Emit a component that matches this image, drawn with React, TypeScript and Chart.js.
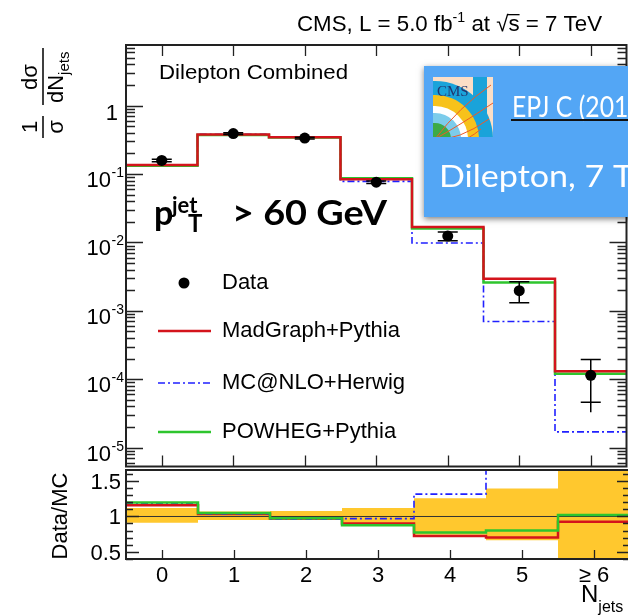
import React, { useEffect, useRef } from 'react';
import { Chart, registerables } from 'chart.js';

Chart.register(...registerables);

// ---------------- data ----------------
const categories = ['0', '1', '2', '3', '4', '5', '≥ 6'];
const binCenters = [0, 1, 2, 3, 4, 5, 6];

const dataValues = [0.158, 0.39, 0.335, 0.076, 0.0124, 0.00197, 0.000114];
const dataStatHi = [0.165, 0.402, 0.345, 0.079, 0.0142, 0.00266, 0.000195];
const dataStatLo = [0.151, 0.378, 0.325, 0.073, 0.0106, 0.00131, 0.000046];
const dataTotLo = [0.151, 0.378, 0.325, 0.073, 0.0106, 0.00131, 0.000033];

const madgraph = [0.136, 0.377, 0.345, 0.084, 0.0168, 0.00294, 0.000131];
const mcatnlo = [0.133, 0.382, 0.348, 0.078, 0.0098, 0.0007, 0.000017];
const powheg = [0.132, 0.371, 0.343, 0.087, 0.016, 0.0026, 0.00012];

const ratioMadgraph = [1.16, 1.035, 0.97, 0.9, 0.72, 0.7, 0.925];
const ratioMcatnlo = [1.19, 1.04, 0.965, 0.97, 1.32, 2.8, 6.7];
const ratioPowheg = [1.2, 1.05, 0.975, 0.875, 0.77, 0.8, 1.02];
const bandLo = [0.91, 0.95, 0.95, 0.88, 0.74, 0.66, 0.2];
const bandHi = [1.12, 1.07, 1.08, 1.12, 1.26, 1.4, 1.9];

const yTickExponents = [0, -1, -2, -3, -4, -5];
const ratioTicks = [0.5, 1, 1.5];
const ratioTickLabels = ['0.5', '1', '1.5'];
const seriesLabels = ['Data', 'MadGraph+Pythia', 'MC@NLO+Herwig', 'POWHEG+Pythia'];

// ---------------- styles ----------------
const SANS = '"Liberation Sans", Arial, Helvetica, sans-serif';
const SLIDE = 'Lato, "Open Sans", sans-serif';
const RED = '#D4141C';
const GREEN = '#2EC52E';
const BLUE = '#2020FF';
const GOLD = '#FFC82E';
const FRAME = '#222';
const BLUE_DASH = [7, 3, 2, 3];

function stepPoints(vals: number[]) {
  const pts: { x: number; y: number }[] = [];
  vals.forEach((v, i) => {
    pts.push({ x: binCenters[i] - 0.5, y: v });
    pts.push({ x: binCenters[i] + 0.5, y: v });
  });
  return pts;
}

type Seg = { t: string; size: number; dy?: number; over?: boolean; font?: string };

function drawRich(ctx: CanvasRenderingContext2D, segs: Seg[], x: number, y: number, target?: number) {
  ctx.save();
  ctx.textAlign = 'left';
  ctx.textBaseline = 'alphabetic';
  const widths = segs.map((s) => {
    ctx.font = `${s.size}px ${s.font || SANS}`;
    return ctx.measureText(s.t).width;
  });
  const total = widths.reduce((a, b) => a + b, 0);
  const sc = target ? target / total : 1;
  ctx.translate(x, y);
  ctx.scale(sc, 1);
  let cx = 0;
  segs.forEach((s, i) => {
    ctx.font = `${s.size}px ${s.font || SANS}`;
    ctx.fillText(s.t, cx, s.dy || 0);
    if (s.over) {
      ctx.fillRect(cx - 1, -17, widths[i] + 1, 1.3);
    }
    cx += widths[i];
  });
  ctx.restore();
}

function fitText(ctx: CanvasRenderingContext2D, t: string, x: number, y: number, target: number) {
  const w = ctx.measureText(t).width;
  ctx.save();
  ctx.translate(x, y);
  ctx.scale(target / w, 1);
  ctx.textAlign = 'left';
  ctx.fillText(t, 0, 0);
  ctx.restore();
}

// draws the full text, scaled so that its leading part `lead` gets width `target`
function fitLead(ctx: CanvasRenderingContext2D, t: string, lead: string, x: number, y: number, target: number) {
  const w = ctx.measureText(lead).width;
  ctx.save();
  ctx.translate(x, y);
  ctx.scale(target / w, 1);
  ctx.textAlign = 'left';
  ctx.fillText(t, 0, 0);
  ctx.restore();
}

function drawOverlay(ctx: CanvasRenderingContext2D) {
  ctx.save();
  ctx.shadowColor = 'rgba(0,0,0,0.5)';
  ctx.shadowBlur = 6;
  ctx.shadowOffsetY = 2;
  ctx.fillStyle = '#53A6F5';
  ctx.fillRect(424, 66, 230, 151);
  ctx.restore();

  // logo
  const lx = 433, ly = 77, ls = 60;
  ctx.save();
  ctx.beginPath();
  ctx.rect(lx, ly, ls, ls);
  ctx.clip();
  ctx.fillStyle = '#FBDEC6';
  ctx.fillRect(lx, ly, ls, ls);
  ctx.fillStyle = '#1AA3DA';
  ctx.fillRect(lx + 40, ly, 14, ls);
  const cx = lx + 2, cy = ly + ls + 2;
  const ring = (r: number, col: string) => {
    ctx.beginPath();
    ctx.arc(cx, cy, r, 0, Math.PI * 2);
    ctx.fillStyle = col;
    ctx.fill();
  };
  ring(58, '#1AA3DA');
  ring(44, '#F7C21B');
  ring(33, '#FFFFFF');
  ring(26, '#7CCCEB');
  ring(16, '#3DAA47');
  ctx.strokeStyle = '#EE5A28';
  ctx.lineWidth = 1;
  const ends = [[58, 8], [60, 26], [56, 42], [48, 52]];
  ends.forEach(([ex, ey]) => {
    ctx.beginPath();
    ctx.moveTo(cx, cy);
    ctx.quadraticCurveTo(lx + ex * 0.45, ly + ey + 22, lx + ex, ly + ey);
    ctx.stroke();
  });
  ctx.fillStyle = '#23366F';
  ctx.font = '15px "Liberation Serif", serif';
  ctx.textAlign = 'left';
  ctx.fillText('CMS', lx + 4, ly + 19);
  ctx.restore();

  ctx.save();
  ctx.fillStyle = '#FFFFFF';
  ctx.textAlign = 'left';
  ctx.textBaseline = 'alphabetic';
  ctx.font = `28px ${SLIDE}`;
  fitLead(ctx, 'EPJ C (2013) 73:2339', 'EPJ C (20', 512, 117, 102);
  ctx.fillStyle = '#111';
  ctx.fillRect(511, 119, 140, 2);
  ctx.fillStyle = '#FFFFFF';
  ctx.font = `30px ${SLIDE}`;
  fitLead(ctx, 'Dilepton, 7 TeV', 'Dilepton, 7 ', 439, 187, 174);
  ctx.restore();
}

const topPlugin = {
  id: 'topDecor',
  afterDatasetsDraw(chart: any) {
    const { ctx } = chart;
    const x = chart.scales.x, y = chart.scales.y;
    ctx.save();
    ctx.strokeStyle = '#000';
    ctx.lineWidth = 1.5;
    binCenters.forEach((c, i) => {
      const px = x.getPixelForValue(c);
      const hi = y.getPixelForValue(dataStatHi[i]);
      const lo = y.getPixelForValue(dataStatLo[i]);
      const tlo = y.getPixelForValue(dataTotLo[i]);
      ctx.beginPath();
      ctx.moveTo(px, hi);
      ctx.lineTo(px, tlo);
      ctx.moveTo(px - 10, hi);
      ctx.lineTo(px + 10, hi);
      ctx.moveTo(px - 10, lo);
      ctx.lineTo(px + 10, lo);
      ctx.stroke();
    });
    ctx.restore();
  },
  afterDraw(chart: any) {
    const { ctx, chartArea: a } = chart;
    const x = chart.scales.x, y = chart.scales.y;
    ctx.save();
    // frame
    ctx.strokeStyle = FRAME;
    ctx.lineWidth = 2;
    ctx.strokeRect(a.left, a.top, a.right - a.left, a.bottom - a.top);
    ctx.lineWidth = 1.3;
    ctx.beginPath();
    for (let e = -6; e <= 0; e++) {
      for (let m = 1; m <= 9; m++) {
        const v = m * Math.pow(10, e);
        if (v < y.min || v > y.max) continue;
        const py = Math.round(y.getPixelForValue(v)) + 0.5;
        const len = m === 1 ? 17 : 9;
        ctx.moveTo(a.left, py);
        ctx.lineTo(a.left + len, py);
        ctx.moveTo(a.right, py);
        ctx.lineTo(a.right - len, py);
      }
    }
    binCenters.forEach((c) => {
      const px = Math.round(x.getPixelForValue(c)) + 0.5;
      ctx.moveTo(px, a.top);
      ctx.lineTo(px, a.top + 11);
      ctx.moveTo(px, a.bottom);
      ctx.lineTo(px, a.bottom - 11);
    });
    ctx.stroke();

    // y tick labels
    ctx.fillStyle = '#000';
    ctx.textBaseline = 'alphabetic';
    ctx.textAlign = 'right';
    yTickExponents.forEach((e) => {
      const py = y.getPixelForValue(Math.pow(10, e));
      if (e === 0) {
        ctx.font = `22px ${SANS}`;
        ctx.fillText('1', 118, py + 14);
      } else {
        const sup = String(e);
        ctx.font = `14px ${SANS}`;
        ctx.fillText(sup, 124, py + 3);
        const w = ctx.measureText(sup).width;
        ctx.font = `22px ${SANS}`;
        ctx.fillText('10', 124 - w - 0.5, py + 13);
      }
    });

    // y title (rotated)
    ctx.save();
    ctx.translate(43, 140);
    ctx.rotate(-Math.PI / 2);
    ctx.font = `22px ${SANS}`;
    ctx.textAlign = 'center';
    ctx.fillText('1', 13, -6);
    ctx.fillText('σ', 13, 20);
    ctx.fillRect(2, -0.75, 22, 1.5);
    ctx.fillText('dσ', 63, -6);
    ctx.textAlign = 'left';
    ctx.fillText('dN', 37, 20);
    const wdN = ctx.measureText('dN').width;
    ctx.font = `15px ${SANS}`;
    ctx.fillText('jets', 37 + wdN, 26);
    ctx.fillRect(35, -0.75, 57, 1.5);
    ctx.restore();

    // header
    drawRich(
      ctx,
      [
        { t: 'CMS, L = 5.0 fb', size: 22 },
        { t: '-1', size: 14, dy: -9 },
        { t: ' at ', size: 22 },
        { t: '√', size: 22 },
        { t: 's', size: 22, over: true },
        { t: ' = 7 TeV', size: 22 },
      ],
      297,
      31,
      305
    );
    ctx.font = `21px ${SANS}`;
    fitText(ctx, 'Dilepton Combined', 159, 79, 189);

    // legend
    ctx.textAlign = 'left';
    ctx.textBaseline = 'middle';
    ctx.font = `22px ${SANS}`;
    const legY = [283, 331, 383, 432];
    ctx.beginPath();
    ctx.arc(184, legY[0], 5.5, 0, Math.PI * 2);
    ctx.fill();
    const legCols = [RED, BLUE, GREEN];
    [1, 2, 3].forEach((k, j) => {
      ctx.save();
      ctx.strokeStyle = legCols[j];
      ctx.lineWidth = j === 1 ? 1.6 : 2.5;
      if (j === 1) ctx.setLineDash(BLUE_DASH);
      ctx.beginPath();
      ctx.moveTo(158, legY[k]);
      ctx.lineTo(211, legY[k]);
      ctx.stroke();
      ctx.restore();
    });
    seriesLabels.forEach((s, i) => ctx.fillText(s, 222, legY[i]));

    // pT cut text
    ctx.textBaseline = 'alphabetic';
    ctx.font = `bold 34px ${SLIDE}`;
    ctx.fillText('p', 154, 225);
    ctx.font = `bold 22px ${SLIDE}`;
    ctx.fillText('jet', 172, 213);
    ctx.font = `bold 24px ${SLIDE}`;
    ctx.fillText('T', 188, 232);
    ctx.font = `bold 34px ${SLIDE}`;
    fitText(ctx, '> 60 GeV', 232, 225, 155);

    drawOverlay(ctx);
    ctx.restore();
  },
};

const bottomPlugin = {
  id: 'bottomDecor',
  afterDraw(chart: any) {
    const { ctx, chartArea: a } = chart;
    const x = chart.scales.x, y = chart.scales.y;
    ctx.save();
    ctx.strokeStyle = FRAME;
    ctx.lineWidth = 2;
    ctx.strokeRect(a.left, a.top, a.right - a.left, a.bottom - a.top);
    ctx.lineWidth = 1.3;
    ctx.beginPath();
    for (let k = 4; k <= 16; k++) {
      const v = k / 10;
      if (v < y.min || v > y.max) continue;
      const py = Math.round(y.getPixelForValue(v)) + 0.5;
      const len = k % 5 === 0 ? 13 : 7;
      ctx.moveTo(a.left, py);
      ctx.lineTo(a.left + len, py);
      ctx.moveTo(a.right, py);
      ctx.lineTo(a.right - len, py);
    }
    binCenters.forEach((c) => {
      const px = Math.round(x.getPixelForValue(c)) + 0.5;
      ctx.moveTo(px, a.bottom);
      ctx.lineTo(px, a.bottom - 9);
    });
    ctx.stroke();

    ctx.fillStyle = '#000';
    ctx.textBaseline = 'alphabetic';
    ctx.font = `22px ${SANS}`;
    ctx.textAlign = 'right';
    ratioTicks.forEach((v, i) => {
      const py = y.getPixelForValue(v);
      ctx.fillText(ratioTickLabels[i], 121, py + 8);
    });
    ctx.textAlign = 'center';
    categories.forEach((c, i) => {
      const px = x.getPixelForValue(binCenters[i]);
      ctx.fillText(c, px, 114);
    });
    // x title
    ctx.textAlign = 'left';
    ctx.font = `24px ${SANS}`;
    ctx.fillText('N', 581, 134);
    const wN = ctx.measureText('N').width;
    ctx.font = `16px ${SANS}`;
    ctx.fillText('jets', 581 + wN, 144);

    // Data/MC
    ctx.save();
    ctx.translate(67, 48);
    ctx.rotate(-Math.PI / 2);
    ctx.font = `22px ${SANS}`;
    ctx.textAlign = 'center';
    ctx.fillText('Data/MC', 0, 0);
    ctx.restore();
    ctx.restore();
  },
};

function topConfig(): any {
  return {
    type: 'line',
    data: {
      datasets: [
        {
          label: seriesLabels[0],
          data: binCenters.map((c, i) => ({ x: c, y: dataValues[i] })),
          showLine: false,
          pointRadius: 5.5,
          pointBorderWidth: 0,
          pointBackgroundColor: '#000',
          pointBorderColor: '#000',
          order: 0,
        },
        {
          label: seriesLabels[1],
          data: stepPoints(madgraph),
          borderColor: RED,
          borderWidth: 2.5,
          pointRadius: 0,
          order: 1,
        },
        {
          label: seriesLabels[3],
          data: stepPoints(powheg),
          borderColor: GREEN,
          borderWidth: 2.5,
          pointRadius: 0,
          order: 2,
        },
        {
          label: seriesLabels[2],
          data: stepPoints(mcatnlo),
          borderColor: BLUE,
          borderWidth: 1.6,
          borderDash: BLUE_DASH,
          pointRadius: 0,
          order: 3,
        },
      ],
    },
    options: {
      responsive: false,
      maintainAspectRatio: false,
      animation: false,
      devicePixelRatio: 1,
      events: [],
      layout: { padding: { left: 126, top: 45, right: 2, bottom: 3 } },
      scales: {
        x: { type: 'linear', min: -0.5, max: 6.5, display: false },
        y: { type: 'logarithmic', min: 5.3e-6, max: 7.7, display: false },
      },
      plugins: { legend: { display: false }, tooltip: { enabled: false } },
    },
    plugins: [topPlugin],
  };
}

function bottomConfig(): any {
  return {
    type: 'line',
    data: {
      datasets: [
        {
          label: 'band hi',
          data: stepPoints(bandHi),
          borderWidth: 0,
          pointRadius: 0,
          backgroundColor: GOLD,
          fill: '+1',
          order: 6,
        },
        {
          label: 'band lo',
          data: stepPoints(bandLo),
          borderWidth: 0,
          pointRadius: 0,
          fill: false,
          order: 7,
        },
        {
          label: 'unity',
          data: [
            { x: -0.5, y: 1 },
            { x: 6.5, y: 1 },
          ],
          borderColor: '#333',
          borderWidth: 1,
          pointRadius: 0,
          order: 5,
        },
        {
          label: seriesLabels[1],
          data: stepPoints(ratioMadgraph),
          borderColor: RED,
          borderWidth: 2.5,
          pointRadius: 0,
          order: 3,
        },
        {
          label: seriesLabels[2],
          data: stepPoints(ratioMcatnlo),
          borderColor: BLUE,
          borderWidth: 1.6,
          borderDash: BLUE_DASH,
          pointRadius: 0,
          order: 2,
        },
        {
          label: seriesLabels[3],
          data: stepPoints(ratioPowheg),
          borderColor: GREEN,
          borderWidth: 2.5,
          pointRadius: 0,
          order: 1,
        },
      ],
    },
    options: {
      responsive: false,
      maintainAspectRatio: false,
      animation: false,
      devicePixelRatio: 1,
      events: [],
      layout: { padding: { left: 126, top: 2, right: 2, bottom: 57 } },
      scales: {
        x: { type: 'linear', min: -0.5, max: 6.5, display: false },
        y: { type: 'linear', min: 0.393, max: 1.664, display: false },
      },
      plugins: { legend: { display: false }, tooltip: { enabled: false } },
    },
    plugins: [bottomPlugin],
  };
}

export default function App() {
  const topRef = useRef<HTMLCanvasElement>(null);
  const botRef = useRef<HTMLCanvasElement>(null);
  useEffect(() => {
    const c1 = new Chart(topRef.current as HTMLCanvasElement, topConfig());
    const c2 = new Chart(botRef.current as HTMLCanvasElement, bottomConfig());
    return () => {
      c1.destroy();
      c2.destroy();
    };
  }, []);
  return (
    <div
      style={{
        position: 'fixed',
        left: 0,
        top: 0,
        width: 628,
        height: 616,
        overflow: 'hidden',
        background: '#fff',
      }}
    >
      <canvas
        ref={topRef}
        width={632}
        height={472}
        style={{ position: 'absolute', left: 0, top: 0, width: 632, height: 472 }}
      />
      <canvas
        ref={botRef}
        width={632}
        height={148}
        style={{ position: 'absolute', left: 0, top: 468, width: 632, height: 148 }}
      />
    </div>
  );
}
